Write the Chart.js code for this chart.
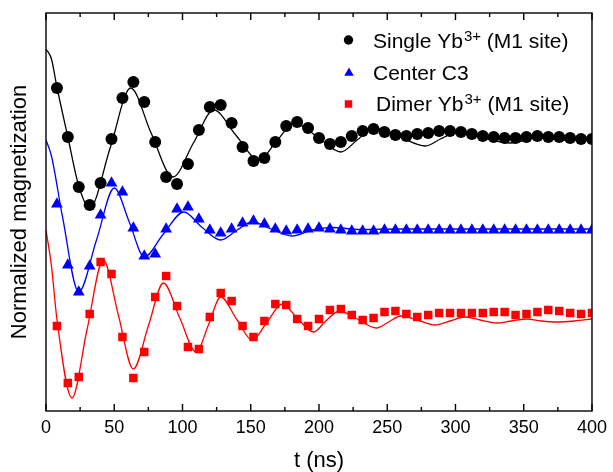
<!DOCTYPE html>
<html>
<head>
<meta charset="utf-8">
<script src="https://cdn.jsdelivr.net/npm/chart.js@4/dist/chart.umd.min.js"></script>
<style>
  body { margin: 0; background: #fff; }
  canvas { display: block; }
</style>
</head>
<body>
<canvas id="magChart" width="613" height="472"></canvas>
<script>
// measured points (t in ns), every 8 ns
const times = [8, 16, 24, 32, 40, 48, 56, 64, 72, 80, 88, 96, 104, 112, 120, 128, 136, 144, 152, 160,
  168, 176, 184, 192, 200, 208, 216, 224, 232, 240, 248, 256, 264, 272, 280, 288, 296, 304, 312, 320,
  328, 336, 344, 352, 360, 368, 376, 384, 392, 400];

const singleYb = [3.23, 2.74, 2.24, 2.06, 2.28, 2.72, 3.13, 3.29, 3.09, 2.69, 2.34, 2.27, 2.47, 2.81, 3.04, 3.06, 2.88, 2.64, 2.50, 2.53,
  2.69, 2.85, 2.89, 2.83, 2.73, 2.67, 2.69, 2.75, 2.80, 2.82, 2.79, 2.76, 2.75, 2.77, 2.78, 2.80, 2.80, 2.79, 2.77, 2.75,
  2.74, 2.73, 2.73, 2.74, 2.75, 2.74, 2.74, 2.73, 2.72, 2.72];

const centerC3 = [2.07, 1.46, 1.19, 1.45, 1.96, 2.28, 2.19, 1.83, 1.55, 1.57, 1.82, 2.02, 2.04, 1.92, 1.81, 1.78, 1.82, 1.88, 1.90, 1.87,
  1.82, 1.80, 1.81, 1.82, 1.83, 1.82, 1.81, 1.80, 1.80, 1.80, 1.81, 1.81, 1.81, 1.81, 1.81, 1.81, 1.81, 1.81, 1.81, 1.81,
  1.81, 1.81, 1.81, 1.81, 1.81, 1.81, 1.81, 1.81, 1.81, 1.81];

const dimerYb = [0.85, 0.28, 0.34, 0.97, 1.49, 1.37, 0.74, 0.33, 0.59, 1.14, 1.35, 1.05, 0.64, 0.62, 0.94, 1.18, 1.10, 0.85, 0.74, 0.90,
  1.07, 1.06, 0.92, 0.85, 0.92, 1.01, 1.02, 0.96, 0.91, 0.93, 0.99, 1.00, 0.97, 0.94, 0.96, 0.98, 0.98, 0.98, 0.98, 0.98,
  0.99, 0.99, 0.96, 0.97, 0.99, 1.01, 1.00, 0.98, 0.97, 0.98];

// fitted curves at turning points and crossings
const singleFitT = [0, 4, 8, 16, 24, 32, 47, 62, 77, 93, 108, 123, 139, 156, 169, 182, 199, 216, 228, 240, 259, 278, 289, 300, 320, 340, 360, 380, 400];
const singleFitV = [3.62, 3.52, 3.24, 2.74, 2.25, 2.03, 2.63, 3.23, 2.78, 2.34, 2.68, 3.01, 2.76, 2.51, 2.70, 2.88, 2.74, 2.59, 2.71, 2.83, 2.74, 2.65, 2.72, 2.78, 2.73, 2.68, 2.73, 2.71, 2.71];

const centerFitT = [0, 4, 12, 24, 37, 50, 61, 72, 86, 101, 114, 128, 140, 151, 165, 180, 195, 210, 230, 260, 400];
const centerFitV = [2.71, 2.55, 1.95, 1.19, 1.71, 2.23, 1.89, 1.54, 1.77, 1.99, 1.84, 1.71, 1.81, 1.89, 1.82, 1.75, 1.81, 1.835, 1.815, 1.82, 1.82];

const dimerFitT = [0, 4, 8, 19, 30, 42, 53, 64, 75, 86, 98, 110, 119, 128, 140, 151, 162, 173, 184, 196, 205, 215, 228, 242, 251, 260, 272, 285, 296, 307, 318, 330, 341, 352, 363, 374, 387, 400];
const dimerFitV = [1.81, 1.45, 0.92, 0.13, 0.81, 1.51, 0.96, 0.42, 0.85, 1.28, 0.93, 0.59, 0.86, 1.14, 0.91, 0.71, 0.89, 1.07, 0.93, 0.79, 0.90, 1.00, 0.92, 0.83, 0.89, 0.95, 0.91, 0.86, 0.90, 0.94, 0.91, 0.88, 0.90, 0.92, 0.90, 0.89, 0.90, 0.92];

const xTicks = [0, 50, 100, 150, 200, 250, 300, 350, 400];
const legendLabels = ['Single Yb^{3+} (M1 site)', 'Center C3', 'Dimer Yb^{3+} (M1 site)'];

const FONT = '"Liberation Sans", Arial, sans-serif';

const toPoints = (xs, ys) => xs.map((x, i) => ({ x: x, y: ys[i] }));

const markerSet = (data, style, color, radius) => ({
    data: toPoints(times, data),
    showLine: false,
    pointStyle: style,
    pointRadius: radius,
    pointHoverRadius: radius,
    pointBackgroundColor: color,
    pointBorderColor: color,
    pointBorderWidth: 0
});

const fitSet = (ts, vs, color) => ({
    data: toPoints(ts, vs),
    showLine: true,
    borderColor: color,
    borderWidth: 1.3,
    pointRadius: 0,
    cubicInterpolationMode: 'monotone',
    fill: false
});

// draws "Yb^{3+}" style text with a raised smaller part
function drawRich(ctx, text, x, y) {
    const parts = text.split(/(\^\{[^}]*\})/);
    parts.forEach(p => {
        if (!p) return;
        if (p.startsWith('^{')) {
            const s = p.slice(2, -1);
            ctx.font = '15px ' + FONT;
            ctx.fillText(s, x + 1, y - 7);
            x += ctx.measureText(s).width + 1;
        } else {
            ctx.font = '21px ' + FONT;
            ctx.fillText(p, x, y);
            x += ctx.measureText(p).width;
        }
    });
}

const framePlugin = {
    id: 'frame',
    afterDatasetsDraw(chart) {
        const { ctx, chartArea: a, scales: { x } } = chart;
        ctx.save();
        ctx.strokeStyle = '#000';
        ctx.lineWidth = 1.4;
        ctx.strokeRect(a.left, a.top, a.right - a.left, a.bottom - a.top);
        ctx.beginPath();
        xTicks.forEach((t, i) => {
            const px = x.getPixelForValue(t);
            ctx.moveTo(px, a.bottom); ctx.lineTo(px, a.bottom - 7);
            ctx.moveTo(px, a.top); ctx.lineTo(px, a.top + 7);
            if (i < xTicks.length - 1) {
                const mx = x.getPixelForValue((t + xTicks[i + 1]) / 2);
                ctx.moveTo(mx, a.bottom); ctx.lineTo(mx, a.bottom - 4);
                ctx.moveTo(mx, a.top); ctx.lineTo(mx, a.top + 4);
            }
        });
        ctx.stroke();
        ctx.restore();
    },
    afterDraw(chart) {
        const ctx = chart.ctx;
        const rows = [
            { style: 'circle', color: '#000000', r: 4.7, mx: 348.5, my: 40, tx: 373, ty: 47.5 },
            { style: 'triangle', color: '#0000ff', r: 5.5, mx: 349, my: 73, tx: 373, ty: 80 },
            { style: 'rect', color: '#ff0000', r: 5.3, mx: 348.5, my: 104, tx: 376, ty: 111 }
        ];
        ctx.save();
        ctx.textBaseline = 'alphabetic';
        ctx.textAlign = 'left';
        rows.forEach((row, i) => {
            ctx.fillStyle = row.color;
            ctx.strokeStyle = row.color;
            Chart.helpers.drawPoint(ctx, { pointStyle: row.style, radius: row.r, borderWidth: 0 }, row.mx, row.my);
            ctx.fillStyle = '#000';
            drawRich(ctx, legendLabels[i], row.tx, row.ty);
        });
        ctx.restore();
    }
};

new Chart(document.getElementById('magChart'), {
    type: 'scatter',
    data: {
        datasets: [
            markerSet(singleYb, 'circle', '#000000', 6),
            markerSet(centerC3, 'triangle', '#0000ff', 6.8),
            markerSet(dimerYb, 'rect', '#ff0000', 6),
            fitSet(singleFitT, singleFitV, '#000000'),
            fitSet(centerFitT, centerFitV, '#0000ff'),
            fitSet(dimerFitT, dimerFitV, '#ff0000')
        ]
    },
    options: {
        responsive: false,
        animation: false,
        layout: { padding: { top: 13, right: 17, left: 0, bottom: 0 } },
        plugins: {
            legend: { display: false },
            tooltip: { enabled: false }
        },
        scales: {
            x: {
                type: 'linear',
                min: 0,
                max: 400,
                afterFit: scale => { scale.height = 61; },
                afterBuildTicks: scale => { scale.ticks = xTicks.map(v => ({ value: v })); },
                grid: { display: false, drawTicks: false },
                border: { display: false },
                ticks: {
                    color: '#000',
                    padding: 6,
                    maxRotation: 0,
                    autoSkip: false,
                    font: { family: FONT, size: 18 }
                },
                title: {
                    display: true,
                    text: 't (ns)',
                    color: '#000',
                    padding: { top: 0, bottom: 0 },
                    font: { family: FONT, size: 22, lineHeight: 1 }
                }
            },
            y: {
                min: 0,
                max: 3.98,
                afterFit: scale => { scale.width = 46; },
                grid: { display: false, drawTicks: false },
                border: { display: false },
                ticks: { display: false },
                title: {
                    display: true,
                    text: 'Normalized magnetization',
                    color: '#000',
                    padding: { top: 9, bottom: 0 },
                    font: { family: FONT, size: 22, lineHeight: 1 }
                }
            }
        }
    },
    plugins: [framePlugin]
});
</script>
</body>
</html>
